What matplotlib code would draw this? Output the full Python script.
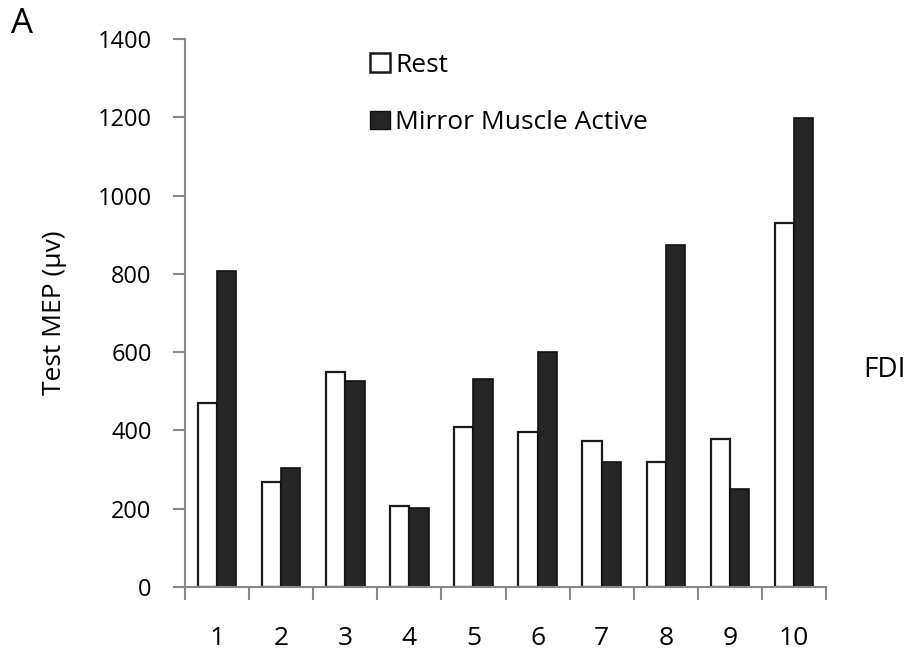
import numpy as np
import matplotlib
matplotlib.use("Agg")
import matplotlib.pyplot as plt
from matplotlib.patches import Patch

plt.rcParams['font.family'] = ['Open Sans', 'DejaVu Sans']

subjects = ['1', '2', '3', '4', '5', '6', '7', '8', '9', '10']
rest = [471, 269, 549, 207, 410, 397, 372, 319, 378, 929]
mirror_active = [807, 305, 525, 203, 532, 600, 319, 874, 250, 1197]

fig = plt.figure(figsize=(9.12, 6.55), dpi=100)
ax = fig.add_axes([0.2029, 0.1038, 0.7028, 0.8367])

x = np.arange(len(subjects))
w = 0.3
ax.bar(x - w / 2, rest, width=w, color='white', edgecolor='#1a1a1a', linewidth=1.6)
ax.bar(x + w / 2, mirror_active, width=w, color='#262626', edgecolor='#111111', linewidth=1.2)

ax.set_xlim(-0.5, len(subjects) - 0.5)
ax.set_ylim(0, 1400)
ax.set_yticks(np.arange(0, 1401, 200))

# ticks sit between the groups, labels in the middle of each group
ax.set_xticks(np.arange(-0.5, len(subjects), 1.0))
ax.set_xticklabels([])
ax.set_xticks(x, minor=True)
ax.set_xticklabels(subjects, minor=True)
ax.tick_params(axis='x', which='minor', length=0, pad=28, labelsize=19)
ax.tick_params(axis='x', which='major', length=9, width=1.5, color='#888888', direction='out')
ax.tick_params(axis='y', length=9, width=1.5, color='#888888', direction='out', pad=15, labelsize=17)

for side in ['top', 'right']:
    ax.spines[side].set_visible(False)
for side in ['left', 'bottom']:
    ax.spines[side].set_color('#888888')
    ax.spines[side].set_linewidth(1.5)

ax.set_ylabel('Test MEP (µv)', fontsize=19, labelpad=22)

handles = [Patch(facecolor='white', edgecolor='#1a1a1a', linewidth=1.8, label='Rest'),
           Patch(facecolor='#262626', edgecolor='#111111', label='Mirror Muscle Active')]
fig.legend(handles=handles, loc='upper left', bbox_to_anchor=(0.4057, 0.919),
           frameon=False, fontsize=19, handlelength=0.75, handleheight=0.72,
           handletextpad=0.2, labelspacing=1.22, borderaxespad=0, borderpad=0)

fig.text(0.947, 0.435, 'FDI', fontsize=20, va='center', ha='left')
fig.text(0.012, 0.963, 'A', fontsize=25, va='center', ha='left')

fig.savefig('out.png', dpi=100)
